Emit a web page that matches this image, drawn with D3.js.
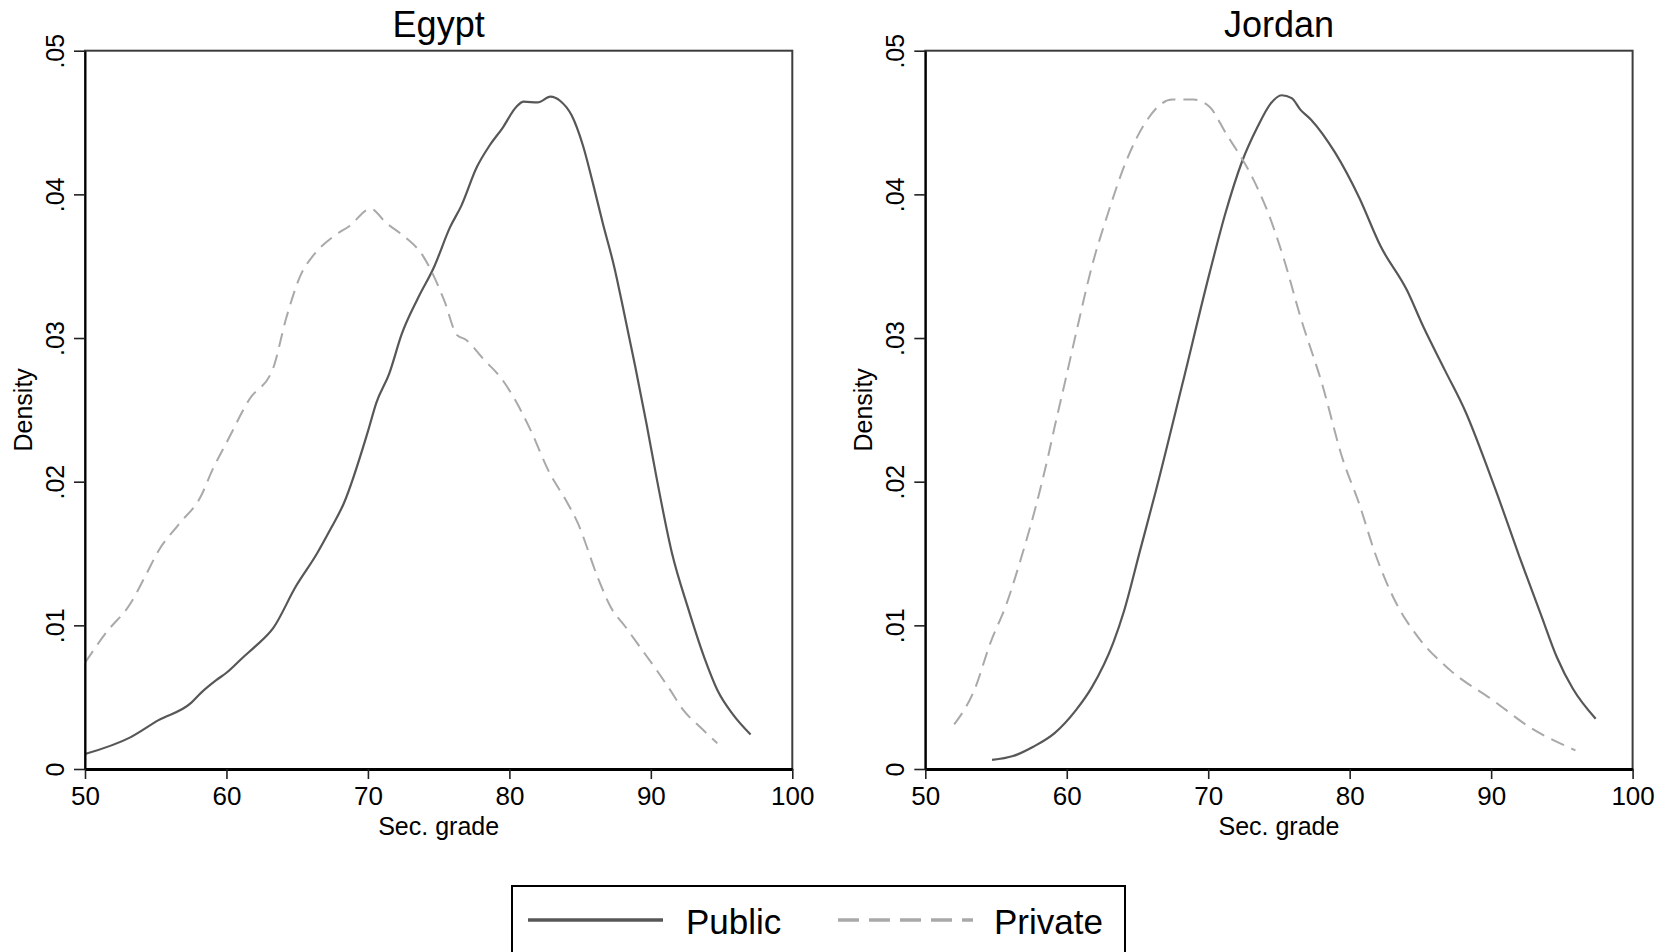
<!DOCTYPE html>
<html>
<head>
<meta charset="utf-8">
<script src="https://cdn.jsdelivr.net/npm/d3@7"></script>
<style>
  body { margin: 0; background: #fff; }
  svg { display: block; }
  text { font-family: "Liberation Sans", Arial, Helvetica, sans-serif; fill: #000; }
</style>
</head>
<body>
<svg id="chart" width="1667" height="952"></svg>
<script>
// Kernel density estimates of secondary-school grades, by school type
const countries = ["Egypt", "Jordan"];
const seriesNames = ["Public", "Private"];
const xTicks = [50, 60, 70, 80, 90, 100];
const yTicks = [0, 0.01, 0.02, 0.03, 0.04, 0.05];
const yTickLabels = ["0", ".01", ".02", ".03", ".04", ".05"];
const xTitle = "Sec. grade";
const yTitle = "Density";

// [grade, density]
const egyptPublic = [
  [50, 0.00104], [53.2, 0.0022], [55.2, 0.0034], [57.5, 0.0046], [58.2, 0.0053],
  [59.3, 0.0062], [60, 0.0067], [61.2, 0.0078], [62, 0.0085], [63.3, 0.0098],
  [64.9, 0.0127], [66.4, 0.015], [67.3, 0.0166], [68.3, 0.0185], [70, 0.0235],
  [70.6, 0.0255], [71.5, 0.0275], [72.4, 0.0303], [73.5, 0.0327], [74.7, 0.035],
  [75.8, 0.0377], [76.6, 0.0392], [77.7, 0.0419], [78.6, 0.0434], [79.5, 0.0446],
  [80.5, 0.0461], [81.0, 0.04645], [82.0, 0.0464], [82.9, 0.0468], [83.6, 0.0465],
  [84.4, 0.0455], [85.2, 0.0434], [85.9, 0.0408], [86.6, 0.038], [87.4, 0.035],
  [88.1, 0.0318], [88.9, 0.028], [89.7, 0.024], [90.4, 0.0203], [91.5, 0.015],
  [92.6, 0.0113], [93.8, 0.0077], [94.7, 0.0055], [95.8, 0.0038], [97.05, 0.0024]
];
const egyptPrivate = [
  [50, 0.0074], [51.5, 0.0095], [53.2, 0.0115], [54.3, 0.0135], [55.2, 0.0152],
  [56.6, 0.017], [58.2, 0.019], [59, 0.0208], [60.1, 0.0229], [61.6, 0.0257],
  [63.3, 0.0279], [64.2, 0.0313], [65.3, 0.0345], [66.1, 0.0357], [67.6, 0.0371],
  [68.7, 0.0378], [70.2, 0.039], [71.3, 0.038], [72.4, 0.0372], [73.9, 0.0357],
  [75.4, 0.0326], [76.3, 0.0302], [76.9, 0.0299], [78.2, 0.0285], [79.5, 0.0271],
  [80.4, 0.0257], [81.4, 0.0238], [82.9, 0.0205], [84, 0.0187], [84.8, 0.0172],
  [86.3, 0.0132], [87.2, 0.0112], [88.2, 0.0099], [89.3, 0.0084], [90.4, 0.0069],
  [91.3, 0.0056], [92.3, 0.0041], [93.5, 0.0029], [94.7, 0.0018]
];
const jordanPublic = [
  [54.72, 0.00063], [56.2, 0.0009], [57.63, 0.00155], [59.14, 0.0025], [60.65, 0.0041],
  [61.78, 0.0057], [63.29, 0.0088], [64.05, 0.011], [65.18, 0.0152], [66.31, 0.0194],
  [68.2, 0.0269], [70.09, 0.0345], [71.22, 0.0387], [72.36, 0.0422], [73.49, 0.0447],
  [74.4, 0.0463], [75.19, 0.0469], [75.9, 0.0467], [76.51, 0.0459], [77.27, 0.0452],
  [78.97, 0.0429], [80.66, 0.0398], [82.18, 0.0364], [84.06, 0.0333], [85.2, 0.0308],
  [86.71, 0.0278], [88.22, 0.0248], [89.73, 0.021], [90.48, 0.019], [91.99, 0.0148],
  [93.5, 0.0108], [94.64, 0.0078], [95.77, 0.0056], [97.39, 0.0035]
];
const jordanPrivate = [
  [52.04, 0.0031], [53.47, 0.0055], [54.61, 0.0088], [55.74, 0.0115], [56.87, 0.015],
  [57.82, 0.0183], [58.69, 0.0218], [59.14, 0.0238], [59.89, 0.027], [60.65, 0.0303],
  [61.78, 0.035], [62.92, 0.0387], [64.24, 0.0424], [65.56, 0.045], [67.45, 0.0466],
  [68.96, 0.0466], [70.09, 0.0461], [71.22, 0.0443], [73.11, 0.0412], [74.24, 0.0387],
  [75.38, 0.0354], [76.51, 0.0315], [78.02, 0.0269], [79.53, 0.0215], [80.66, 0.0185],
  [81.8, 0.015], [83.31, 0.0115], [84.82, 0.0092], [87.08, 0.0069], [90.11, 0.0048],
  [92.75, 0.0029], [95.96, 0.0013]
];
const panelSeries = [[egyptPublic, egyptPrivate], [jordanPublic, jordanPrivate]];

// Layout
const panelLeft = [85, 925.3];
const plotW = 707.3;
const plotTop = 50.7;
const plotBottom = 769;

const lineStyle = [
  { stroke: "#575757", width: 2.2, dash: null, keyDash: null },
  { stroke: "#a9a9a9", width: 2.0, dash: "14,8", keyDash: "21,10" }
];

const svg = d3.select("#chart");
const x = d3.scaleLinear().domain([50, 100]).range([0, plotW]);
const y = d3.scaleLinear().domain([0, 0.05]).range([plotBottom, plotTop]);
const line = d3.line().x(d => x(d[0])).y(d => y(d[1])).curve(d3.curveMonotoneX);

countries.forEach((name, pi) => {
  const g = svg.append("g").attr("transform", `translate(${panelLeft[pi]},0)`);

  // plot region frame
  g.append("rect")
    .attr("x", 0).attr("y", plotTop)
    .attr("width", plotW).attr("height", plotBottom - plotTop)
    .attr("fill", "none").attr("stroke", "#3c3c3c").attr("stroke-width", 2);

  // density curves
  panelSeries[pi].forEach((data, si) => {
    const st = lineStyle[si];
    g.append("path")
      .datum(data)
      .attr("d", line)
      .attr("fill", "none")
      .attr("stroke", st.stroke)
      .attr("stroke-width", st.width)
      .attr("stroke-linejoin", "round")
      .attr("stroke-dasharray", st.dash);
  });

  // y axis
  const ya = g.append("g").call(
    d3.axisLeft(y).tickValues(yTicks).tickSize(11).tickSizeOuter(0)
      .tickFormat((d, i) => yTickLabels[i])
  );
  ya.select(".domain").attr("stroke", "#000").attr("stroke-width", 2);
  ya.selectAll(".tick line").attr("stroke", "#222").attr("stroke-width", 1.6);
  ya.selectAll(".tick text")
    .attr("x", null).attr("dy", null)
    .attr("text-anchor", "middle")
    .attr("transform", "translate(-21,0) rotate(-90)")
    .style("font-size", "25px")
    .style("font-family", null);

  // x axis
  const xa = g.append("g").attr("transform", `translate(0,${plotBottom})`).call(
    d3.axisBottom(x).tickValues(xTicks).tickSize(10).tickSizeOuter(0)
      .tickFormat(d3.format("d"))
  );
  xa.select(".domain").attr("stroke", "#000").attr("stroke-width", 3);
  xa.selectAll(".tick line").attr("stroke", "#222").attr("stroke-width", 1.6);
  xa.selectAll(".tick text")
    .attr("y", 36).attr("dy", null)
    .style("font-size", "26px")
    .style("font-family", null);
  svg.selectAll(".tick text").attr("fill", "#000");

  // titles
  g.append("text")
    .attr("x", plotW / 2).attr("y", 37)
    .attr("text-anchor", "middle")
    .style("font-size", "36px")
    .text(name);

  g.append("text")
    .attr("x", plotW / 2).attr("y", 835)
    .attr("text-anchor", "middle")
    .style("font-size", "25px")
    .text(xTitle);

  g.append("text")
    .attr("text-anchor", "middle")
    .attr("transform", `translate(-53,${(plotTop + plotBottom) / 2}) rotate(-90)`)
    .style("font-size", "25px")
    .text(yTitle);
});

// legend
const legend = svg.append("g");
legend.append("rect")
  .attr("x", 512).attr("y", 886)
  .attr("width", 613).attr("height", 90)
  .attr("fill", "#fff").attr("stroke", "#000").attr("stroke-width", 2);

const keyX = [528, 838];
const keyLen = 135;
const labelX = [686, 994];
seriesNames.forEach((s, i) => {
  const st = lineStyle[i];
  legend.append("line")
    .attr("x1", keyX[i]).attr("x2", keyX[i] + keyLen)
    .attr("y1", 920).attr("y2", 920)
    .attr("stroke", st.stroke)
    .attr("stroke-width", 3.5)
    .attr("stroke-dasharray", st.keyDash);
  legend.append("text")
    .attr("x", labelX[i]).attr("y", 934)
    .style("font-size", "35px")
    .text(s);
});
</script>
</body>
</html>
